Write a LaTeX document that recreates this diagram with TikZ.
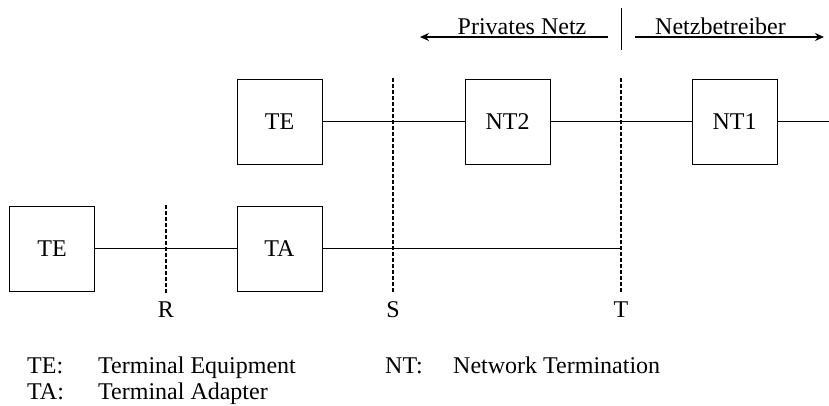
\documentclass[tikz,border=0pt]{standalone}
\usepackage{fontspec}
\setmainfont{Liberation Serif}
\usetikzlibrary{arrows.meta}
\begin{document}
\begin{tikzpicture}[x=1pt,y=-1pt,
  txt/.style={font=\fontsize{24}{28}\selectfont},
  box/.style={draw,line width=0.8pt,minimum width=85pt,minimum height=85pt,inner sep=0pt,txt},
  conn/.style={line width=1.5pt},
  ref/.style={line width=1.5pt,dash pattern=on 4pt off 2pt},
  lbl/.style={txt,inner sep=0pt},
  arr/.style={line width=1.8pt,-{Stealth[length=9pt,width=8pt]}}]
\useasboundingbox (0,0) rectangle (829,405);
% boxes
\node[box] (te1) at (279.5,121.5) {TE};
\node[box] (nt2) at (507.5,121.5) {NT2};
\node[box] (nt1) at (734.5,121.5) {NT1};
\node[box] (te2) at (52,248.5) {TE};
\node[box] (ta) at (279.5,248.5) {TA};
\coordinate (rend) at (829,121.5);
\coordinate (tend) at (621,248.5);
% connectors
\draw[conn] (te1) -- (nt2);
\draw[conn] (nt2) -- (nt1);
\draw[conn] (nt1) -- (rend);
\draw[conn] (te2) -- (ta);
\draw[conn] (ta) -- (tend);
% reference points
\coordinate (rtop) at (166,205);
\coordinate (rbot) at (166,293);
\coordinate (stop) at (393,78);
\coordinate (sbot) at (393,293);
\coordinate (ttop) at (621,78);
\coordinate (tbot) at (621,293);
\draw[ref] (rtop) -- (rbot);
\draw[ref] (stop) -- (sbot);
\draw[ref] (ttop) -- (tbot);
\node[lbl,anchor=base] (rl) at (166,317) {R};
\node[lbl,anchor=base] (sl) at (393,317) {S};
\node[lbl,anchor=base] (tl) at (621,317) {T};
% top domain arrows
\coordinate (divtop) at (621,8);
\coordinate (divbot) at (621,50);
\draw[line width=1pt] (divtop) -- (divbot);
\coordinate (pa) at (608,37);
\coordinate (pb) at (420,37);
\coordinate (na) at (635,37);
\coordinate (nb) at (824,37);
\draw[arr] (pa) -- (pb);
\draw[arr] (na) -- (nb);
\node[lbl,anchor=base] (priv) at (522,34) {Privates Netz};
\node[lbl,anchor=base] (netz) at (720.5,34) {Netzbetreiber};
% legend
\node[lbl,anchor=base west] (k1) at (27,373) {TE:};
\node[lbl,anchor=base west] (v1) at (98,373) {Terminal Equipment};
\node[lbl,anchor=base west] (k2) at (27,399) {TA:};
\node[lbl,anchor=base west] (v2) at (98,399) {Terminal Adapter};
\node[lbl,anchor=base west] (k3) at (385,373) {NT:};
\node[lbl,anchor=base west] (v3) at (453,373) {Network Termination};
\end{tikzpicture}
\end{document}
